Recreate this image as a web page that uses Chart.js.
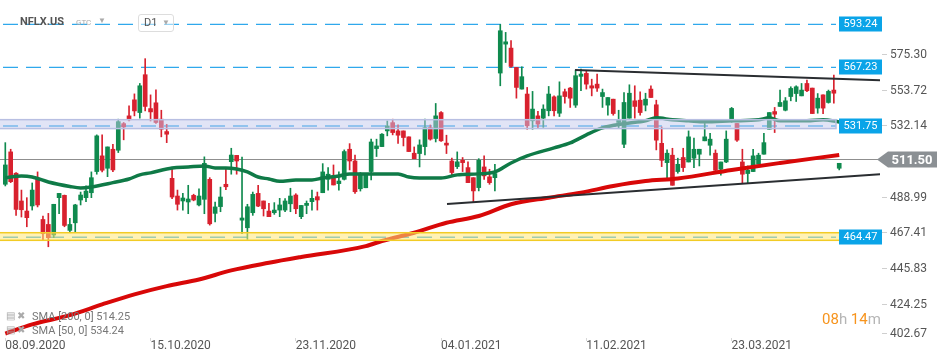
<!DOCTYPE html>
<html><head><meta charset="utf-8">
<script src="https://cdn.jsdelivr.net/npm/chart.js@4"></script>
<style>
html,body{margin:0;padding:0;background:#fff;}
#wrap{position:relative;width:950px;height:364px;overflow:hidden;font-family:Roboto,sans-serif;}
canvas{position:absolute;left:0;top:0;}
.ov{position:absolute;white-space:nowrap;line-height:1;}
</style></head><body>
<div id="wrap">
<canvas id="c" width="950" height="364"></canvas>
<div class="ov" style="left:20px;top:16px;font-size:11px;font-weight:bold;color:#555;">NFLX.US</div>
<div class="ov" style="left:76px;top:19px;font-size:8px;color:#aaa;">GTC</div>
<div class="ov" style="left:98px;top:17px;font-size:8px;color:#aaa;">&#9660;</div>
<div class="ov" style="left:138px;top:14px;width:34px;height:16px;border:1px solid #ddd;border-radius:3px;background:rgba(255,255,255,0.5);"></div>
<div class="ov" style="left:144px;top:17px;font-size:11px;color:#555;">D1</div>
<div class="ov" style="left:162px;top:19px;font-size:8px;color:#aaa;">&#9660;</div>
<div class="ov" style="left:6px;top:311px;font-size:10px;color:#aaa;">&#9636;&nbsp;&#10006;</div>
<div class="ov" style="left:32px;top:311px;font-size:11px;color:#777;">SMA [200, 0] 514.25</div>
<div class="ov" style="left:6px;top:325px;font-size:10px;color:#aaa;">&#9636;&nbsp;&#10006;</div>
<div class="ov" style="left:32px;top:325px;font-size:11px;color:#777;">SMA [50, 0] 534.24</div>
<div class="ov" style="left:822px;top:312px;font-size:15px;color:#f7941d;">08<span style="color:#b5b5b5">h</span> 14<span style="color:#b5b5b5">m</span></div>
</div>
<script>
// ---- data ----
const holidays = ['2020-11-26','2020-12-25','2021-01-01','2021-01-18','2021-02-15','2021-04-02'];
const tickLabels = ['08.09.2020','15.10.2020','23.11.2020','04.01.2021','11.02.2021','23.03.2021'];
const yTickValues = [402.67,424.25,445.83,467.41,488.99,532.14,553.72,575.30];

const open  = [496.5,516.1,503.2,486.4,480.3,483.4,499.9,475.2,472.2,465.8,488.4,489.8,468.6,473.2,487.0,488.4,491.4,504.2,513.7,506.2,517.7,517.1,533.2,537.9,547.6,539.9,562.8,542.3,545.8,535.9,528.4,500.1,489.4,486.4,485.8,489.8,484.0,487.4,499.5,478.9,483.0,496.5,510.2,514.0,474.8,470.2,479.3,491.0,486.4,480.3,479.3,480.9,480.9,484.7,490.0,476.9,483.7,486.0,489.0,491.4,499.5,501.1,496.9,499.5,517.7,510.6,493.8,494.4,504.2,518.1,519.3,528.8,533.8,528.8,528.8,525.2,515.3,515.1,519.3,530.8,524.2,539.9,521.4,510.6,507.2,511.0,506.6,500.5,494.5,507.0,501.0,500.5,563.8,581.3,578.9,567.2,554.1,551.1,534.9,537.9,536.5,541.0,549.4,539.5,552.5,554.7,544.4,561.8,563.6,556.1,557.1,549.6,544.4,548.0,533.9,520.7,536.5,547.0,547.4,544.4,554.1,544.6,521.3,509.6,514.1,504.2,512.7,510.0,512.3,514.7,522.8,520.1,515.3,505.6,510.0,534.9,533.3,510.0,503.0,504.2,508.6,514.7,529.8,540.5,543.6,541.3,549.6,551.4,550.0,557.5,554.7,542.6,550.6,546.0,553.5,506.2];
const high  = [521.7,517.7,503.6,493.0,488.4,497.3,504.0,477.3,478.9,484.4,491.0,490.0,475.9,484.4,491.8,495.5,504.0,526.4,526.4,519.1,520.7,535.9,533.9,544.0,551.2,557.5,572.5,550.6,553.7,541.3,532.8,506.2,493.0,491.0,495.9,490.5,493.8,513.1,500.5,485.8,494.8,505.6,518.3,514.0,513.0,484.4,491.8,495.9,486.4,485.0,485.4,488.0,487.8,494.1,490.8,483.7,486.4,493.0,491.8,509.0,506.6,508.2,504.0,517.3,521.1,514.2,503.6,502.6,523.8,523.8,527.2,534.8,535.9,532.4,528.8,525.2,519.1,523.4,535.9,532.4,545.4,540.5,526.2,512.3,516.1,512.7,510.1,500.5,512.0,513.7,505.6,508.6,593.2,588.4,583.4,567.2,567.6,555.1,552.7,540.6,544.6,555.7,550.0,558.5,554.1,555.1,565.6,566.2,565.2,560.1,563.2,554.1,549.0,548.0,541.3,552.0,556.7,556.1,552.5,551.6,556.1,547.4,531.2,517.3,518.3,512.3,518.3,528.8,524.4,517.7,533.3,527.4,517.3,510.0,528.8,543.0,533.3,517.7,507.6,517.7,515.3,527.4,539.9,543.0,553.5,549.0,555.5,556.1,557.5,559.5,554.7,551.4,550.6,553.5,562.6,509.2];
const low   = [495.5,497.5,477.7,476.7,470.8,480.9,482.8,462.7,458.7,464.2,478.7,470.8,467.2,467.8,484.0,486.0,488.4,502.6,504.0,501.1,504.2,515.7,523.4,534.9,537.9,536.5,540.9,534.8,533.3,525.2,521.7,487.8,480.9,480.9,478.7,486.5,483.4,478.7,471.8,473.8,479.9,493.2,502.6,502.6,466.6,463.2,477.7,483.0,477.3,476.9,478.3,476.9,479.9,479.9,478.7,475.7,478.7,480.9,480.9,491.4,493.0,496.1,493.0,499.1,505.2,491.0,492.4,494.4,499.1,513.3,519.3,525.8,526.4,521.3,519.7,516.3,512.0,507.0,514.2,523.2,522.1,522.4,515.1,502.2,506.0,504.2,497.5,485.4,492.5,499.5,496.5,492.5,556.1,570.2,567.2,548.6,554.1,529.8,529.8,530.4,530.9,537.9,537.9,537.5,545.6,543.0,543.0,553.1,554.1,550.0,552.7,543.0,538.3,538.3,530.8,518.7,536.5,536.5,538.3,540.9,549.0,517.3,507.2,499.1,495.9,503.2,504.2,510.0,506.6,507.6,522.8,514.1,504.2,502.0,509.6,534.0,522.4,496.9,496.9,504.2,508.6,514.7,529.8,527.8,543.6,540.9,547.0,546.6,550.0,552.5,539.3,539.5,539.3,545.6,545.6,505.2];
const close = [508.2,498.1,481.3,481.1,476.3,493.0,484.0,466.6,464.2,484.4,491.0,471.6,472.2,484.0,490.0,492.4,500.5,525.8,505.0,519.1,505.2,534.4,531.2,535.5,540.9,556.1,543.6,540.3,533.9,529.8,526.8,488.8,484.4,488.2,487.6,487.0,489.4,509.2,472.6,482.8,488.8,495.0,514.2,510.6,476.1,482.9,490.4,483.3,481.7,476.9,480.9,484.0,486.4,489.4,481.7,483.7,485.0,488.0,487.0,504.0,502.6,496.1,498.5,516.3,510.6,492.0,502.9,502.6,522.1,519.7,526.8,531.8,527.8,526.2,524.8,516.3,512.0,520.3,530.8,523.8,537.9,522.8,520.2,503.6,510.1,509.6,497.5,492.5,511.0,501.6,497.5,503.0,589.4,582.7,567.8,555.1,561.6,531.9,542.0,532.9,542.0,551.1,541.0,550.0,549.6,548.6,562.2,563.2,557.1,554.7,554.7,552.0,549.0,539.3,535.3,546.0,551.6,543.6,539.9,548.0,549.0,523.2,511.0,515.3,495.9,508.6,506.6,525.2,517.7,517.7,525.2,523.8,505.0,510.0,523.8,542.4,523.2,502.6,505.0,513.7,514.1,521.7,539.9,538.9,546.0,547.0,554.5,555.5,553.5,553.1,539.3,548.6,542.6,552.7,551.6,509.2];

// moving averages (candle index, value)
const sma50Idx = [0,3,5,8,12,14,16,20,23,25,27,31,34,37,39,41,43,45,47,49,51,54,57,59,62,64,68,73,75,77,81,84,88,91,94,97,102,105,108,111,115,119,121,124,127,130,135,140,142,144,149,152,155];
const sma50Val = [500.5,501.5,500.9,497.9,495.2,494.3,494.9,497.5,499.7,502.2,503.4,506.4,507.0,507.6,506.4,506.4,505.8,504.0,500.9,499.7,498.3,499.1,499.1,500.3,501.5,502.8,502.8,502.8,500.9,500.3,500.3,502.2,502.8,504.0,509.4,513.7,518.5,521.5,526.4,530.6,533.1,534.9,536.7,535.5,534.9,534.3,534.9,535.5,536.7,534.9,534.9,535.5,534.24];
const sma200Idx = [0,5,12,18,24,30,36,42,49,55,67,70,76,82,88,94,101,107,113,119,125,135,144,155];
const sma200Val = [406.2,411.7,417.3,423.8,429.9,434.9,438.9,444.4,449.0,452.5,459.1,462.2,467.2,473.2,477.3,484.4,488.4,491.4,495.5,498.5,500.0,505.2,509.4,514.25];

// trend lines (candle index, price)
const trendUpper = [[105.9,565.6],[162.6,559.5]];
const trendLower = [[82.1,484.6],[162.6,502.6]];

// horizontal levels and zones
const levels = [593.24, 567.23, 531.75, 464.47];
const zones = [[530.2,535.6],[462.6,467.2]];
const lastPrice = 511.50;

// ---- categories: trading days ----
const dates = [];
(function(){
  const d = new Date(Date.UTC(2020,8,8));
  while (dates.length < open.length) {
    const dow = d.getUTCDay();
    const iso = d.toISOString().slice(0,10);
    if (dow !== 0 && dow !== 6 && holidays.indexOf(iso) < 0) {
      dates.push(iso.slice(8,10)+'.'+iso.slice(5,7)+'.'+iso.slice(0,4));
    }
    d.setUTCDate(d.getUTCDate()+1);
  }
})();
const tickIdx = tickLabels.map(l => dates.indexOf(l));

const UP = '#0f8a4e', DOWN = '#d8212e';
const idx = open.map((_, i) => i);
const candleColor = c => { const i = c.dataIndex; return close[i] >= open[i] ? UP : DOWN; };

const overlay = {
  id: 'overlay',
  beforeDatasetsDraw(chart) {
    const {ctx, chartArea: a, scales: {y}} = chart;
    ctx.save();
    const yp = Math.round(y.getPixelForValue(lastPrice)) + 0.5;
    ctx.strokeStyle = '#8f8f8f'; ctx.lineWidth = 1;
    ctx.beginPath(); ctx.moveTo(a.left, yp); ctx.lineTo(a.right, yp); ctx.stroke();
    ctx.setLineDash([15, 8]); ctx.strokeStyle = '#2fa8ec'; ctx.lineWidth = 1.4;
    levels.forEach(v => {
      const p = y.getPixelForValue(v);
      ctx.beginPath(); ctx.moveTo(a.left + 3, p); ctx.lineTo(a.right - 44, p); ctx.stroke();
    });
    ctx.restore();
  },
  afterDatasetsDraw(chart) {
    const {ctx, chartArea: a, scales: {y}} = chart;
    ctx.save();
    // zones
    const zc = [['rgba(196,202,238,0.5)', '#b8bfe2'], ['rgba(255,232,120,0.55)', '#f2cb25']];
    zones.forEach((z, k) => {
      const t = y.getPixelForValue(z[1]), b = y.getPixelForValue(z[0]);
      ctx.fillStyle = zc[k][0];
      ctx.fillRect(a.left, t, a.right - 44 - a.left + (k ? 4 : 0), b - t);
      ctx.strokeStyle = zc[k][1]; ctx.lineWidth = 1.5;
      ctx.strokeRect(a.left - 2, t, a.right - 44 - a.left + 2 + (k ? 4 : 0), b - t);
    });
    // level labels
    ctx.font = '11px Roboto'; ctx.textAlign = 'center'; ctx.textBaseline = 'middle';
    levels.forEach(v => {
      const p = y.getPixelForValue(v);
      ctx.fillStyle = '#0aa4e8';
      ctx.fillRect(a.right - 41, Math.round(p) - 7.5, 43, 15);
      ctx.fillStyle = '#fff';
      ctx.fillText(v.toFixed(2), a.right - 19.5, Math.round(p) + 0.5);
    });
    // y axis labels and ticks
    ctx.textAlign = 'left'; ctx.font = '12px Roboto'; ctx.fillStyle = '#555';
    ctx.strokeStyle = '#cfcfcf'; ctx.lineWidth = 1;
    yTickValues.forEach(v => {
      const p = y.getPixelForValue(v);
      const lp = Math.min(p, a.bottom - 5);
      ctx.beginPath(); ctx.moveTo(a.right + 2, Math.round(lp) + 0.5); ctx.lineTo(a.right + 7, Math.round(lp) + 0.5); ctx.stroke();
      ctx.fillText(v.toFixed(2), a.right + 10, lp + 1);
    });
    // last price marker
    const lp = Math.round(y.getPixelForValue(lastPrice)) + 0.5;
    ctx.fillStyle = '#8b9094';
    ctx.beginPath();
    ctx.moveTo(a.right - 3, lp); ctx.lineTo(a.right + 8, lp - 8); ctx.lineTo(a.right + 57, lp - 8);
    ctx.lineTo(a.right + 57, lp + 8); ctx.lineTo(a.right + 8, lp + 8); ctx.closePath(); ctx.fill();
    ctx.fillStyle = '#fff'; ctx.font = 'bold 13px Roboto'; ctx.textAlign = 'center';
    ctx.fillText(lastPrice.toFixed(2), a.right + 32, lp + 1);
    ctx.restore();
  }
};

new Chart(document.getElementById('c'), {
  type: 'bar',
  data: {
    datasets: [
      { type: 'line', label: 'trendU', data: trendUpper.map(p => ({x: p[0], y: p[1]})), borderColor: '#2a2d31', borderWidth: 2, pointRadius: 0, order: 0 },
      { type: 'line', label: 'trendL', data: trendLower.map(p => ({x: p[0], y: p[1]})), borderColor: '#2a2d31', borderWidth: 2, pointRadius: 0, order: 0 },
      { type: 'line', label: 'SMA50', data: sma50Idx.map((x, k) => ({x, y: sma50Val[k]})), borderColor: '#0f7a47', borderWidth: 3.5, pointRadius: 0, cubicInterpolationMode: 'monotone', order: 1 },
      { type: 'line', label: 'SMA200', data: sma200Idx.map((x, k) => ({x, y: sma200Val[k]})), borderColor: '#d80808', borderWidth: 4, pointRadius: 0, cubicInterpolationMode: 'monotone', order: 1 },
      { type: 'bar', label: 'body', data: idx.map(i => ({x: i, y: [open[i], close[i]]})), backgroundColor: candleColor, borderWidth: 0, barThickness: 4, minBarLength: 1, grouped: false, order: 2 },
      { type: 'bar', label: 'wick', data: idx.map(i => ({x: i, y: [low[i], high[i]]})), backgroundColor: candleColor, borderWidth: 0, barThickness: 1, grouped: false, order: 3 }
    ]
  },
  options: {
    responsive: false, animation: false, devicePixelRatio: 1,
    layout: { padding: 0 },
    plugins: { legend: { display: false }, tooltip: { enabled: false } },
    scales: {
      x: {
        type: 'linear', min: -0.985, max: 162.58, offset: false,
        afterFit(s) { s.height = 26; },
        afterBuildTicks(s) { s.ticks = tickIdx.map(v => ({value: v})); },
        grid: { drawOnChartArea: false, drawTicks: true, tickLength: 3, color: '#d8d8d8', offset: false },
        border: { display: false },
        ticks: { align: 'start', autoSkip: false, maxRotation: 0, padding: -1, color: '#555', font: { family: 'Roboto', size: 12, lineHeight: 1 },
                 callback: v => dates[v] }
      },
      y: {
        type: 'linear', position: 'right', min: 403.5, max: 608.0, beginAtZero: false,
        afterFit(s) { s.width = 70; },
        grid: { drawOnChartArea: false, drawTicks: false },
        border: { display: false },
        ticks: { display: false }
      }
    }
  },
  plugins: [overlay]
});
</script>
</body></html>
